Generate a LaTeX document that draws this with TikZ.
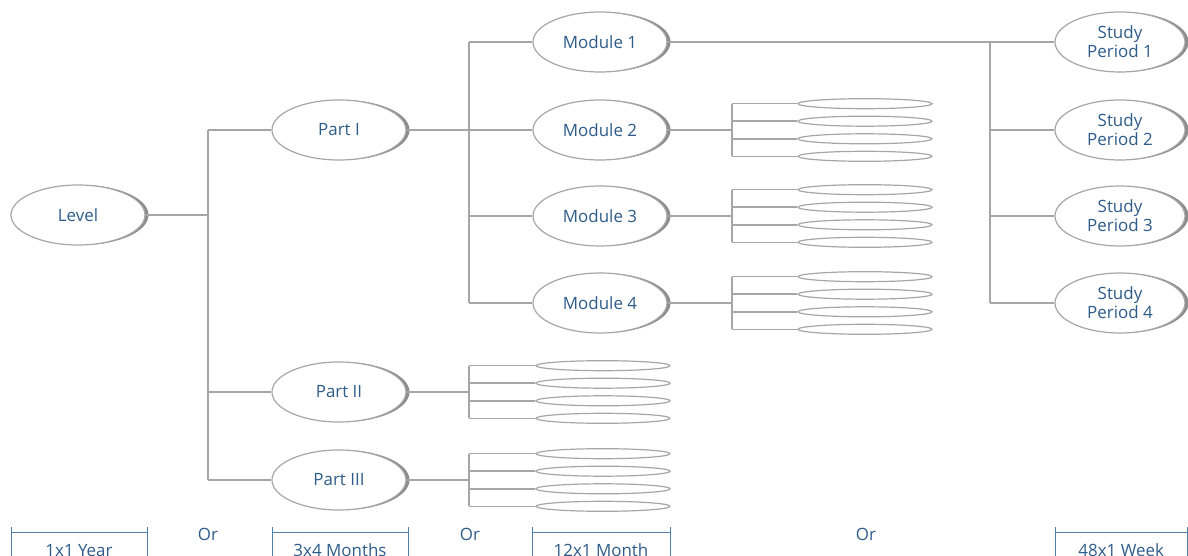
\documentclass[tikz,border=0pt]{standalone}
\usepackage{fontspec}
\setmainfont{Open Sans}
\usetikzlibrary{shapes.geometric,shadows}
\definecolor{linegray}{HTML}{A6A6A6}
\definecolor{shadegray}{HTML}{8C8C8C}
\definecolor{textblue}{HTML}{2E5C8A}
\definecolor{barblue}{HTML}{4F7FAD}
\tikzset{
  unit/.style={ellipse, draw=linegray, line width=1.2bp, fill=white,
    minimum width=134bp, minimum height=60bp, inner sep=0pt, align=center,
    text=textblue, font=\fontsize{17}{19}\selectfont,
    drop shadow={shadow xshift=3.5bp, shadow yshift=0bp, fill=shadegray, opacity=1}},
  slot/.style={ellipse, draw=linegray, line width=1.2bp, fill=white,
    minimum width=134bp, minimum height=10bp, inner sep=0pt},
  link/.style={draw=linegray, line width=1.5bp},
  span/.style={draw=barblue, line width=0.8bp},
  tag/.style={text=textblue, font=\fontsize{17}{19}\selectfont, anchor=base},
}
\begin{document}
\begin{tikzpicture}[x=1bp, y=-1bp]
    \useasboundingbox (0,0) rectangle (1188,556);
    % levels, parts, modules, study periods
    \node[unit] (level) at (78,215) {Level};
    \node[unit] (part1) at (339,130) {Part I};
    \node[unit] (part2) at (339,392) {Part II};
    \node[unit] (part3) at (339,480) {Part III};
    \node[unit] (mod1) at (600,42) {Module 1};
    \node[unit] (mod2) at (600,130) {Module 2};
    \node[unit] (mod3) at (600,216) {Module 3};
    \node[unit] (mod4) at (600,303) {Module 4};
    \node[unit, minimum width=130bp] (study1) at (1120,42) {Study\\Period 1};
    \node[unit, minimum width=130bp] (study2) at (1120,130) {Study\\Period 2};
    \node[unit, minimum width=130bp] (study3) at (1120,216) {Study\\Period 3};
    \node[unit, minimum width=130bp] (study4) at (1120,303) {Study\\Period 4};
    \coordinate (jlevel) at (208,215);
    \coordinate (jpart) at (469,130);
    \coordinate (jmod) at (990,42);
    % level -> parts
    \draw[link] (level) -- (jlevel);
    \draw[link] (part1 -| jlevel) -- (part3 -| jlevel);
    \draw[link] (part1 -| jlevel) -- (part1);
    \draw[link] (part2 -| jlevel) -- (part2);
    \draw[link] (part3 -| jlevel) -- (part3);
    % part I -> modules
    \draw[link] (part1) -- (jpart);
    \draw[link] (mod1 -| jpart) -- (mod4 -| jpart);
    \draw[link] (mod1 -| jpart) -- (mod1);
    \draw[link] (mod2 -| jpart) -- (mod2);
    \draw[link] (mod3 -| jpart) -- (mod3);
    \draw[link] (mod4 -| jpart) -- (mod4);
    % module 1 -> study periods
    \draw[link] (mod1) -- (study1);
    \draw[link] (study1 -| jmod) -- (study4 -| jmod);
    \draw[link] (study2 -| jmod) -- (study2);
    \draw[link] (study3 -| jmod) -- (study3);
    \draw[link] (study4 -| jmod) -- (study4);
    % collapsed stacks
    \foreach \p/\y/\c/\j in {mod2/130/865/732, mod3/216/865/732, mod4/303/865/732,
                             part2/392/603/469, part3/480/603/469} {
        \coordinate (\p j) at (\j,\y);
        \draw[link] (\p) -- (\p j);
        \foreach \k/\o in {1/-26.3, 2/-8.8, 3/8.8, 4/26.3} {
            \node[slot] (\p s\k) at (\c,\y+\o) {};
            \draw[link] (\p j |- \p s\k) -- (\p s\k);
        }
        \draw[link] (\p j |- \p s1) -- (\p j |- \p s4);
    }
    % time scales
    \foreach \n/\a/\b/\t in {year/11/147/1x1 Year, months/272/408/3x4 Months,
                             month/532/670/12x1 Month, week/1055/1187.5/48x1 Week} {
        \draw[span] (\a,527) -- (\a,556) (\a,532) -- (\b,532) (\b,527) -- (\b,556);
        \node[tag] (\n) at ({(\a+\b)/2},556) {\t};
    }
    \node[tag] (or1) at (208,540) {Or};
    \node[tag] (or2) at (470,540) {Or};
    \node[tag] (or3) at (866,540) {Or};
\end{tikzpicture}
\end{document}
